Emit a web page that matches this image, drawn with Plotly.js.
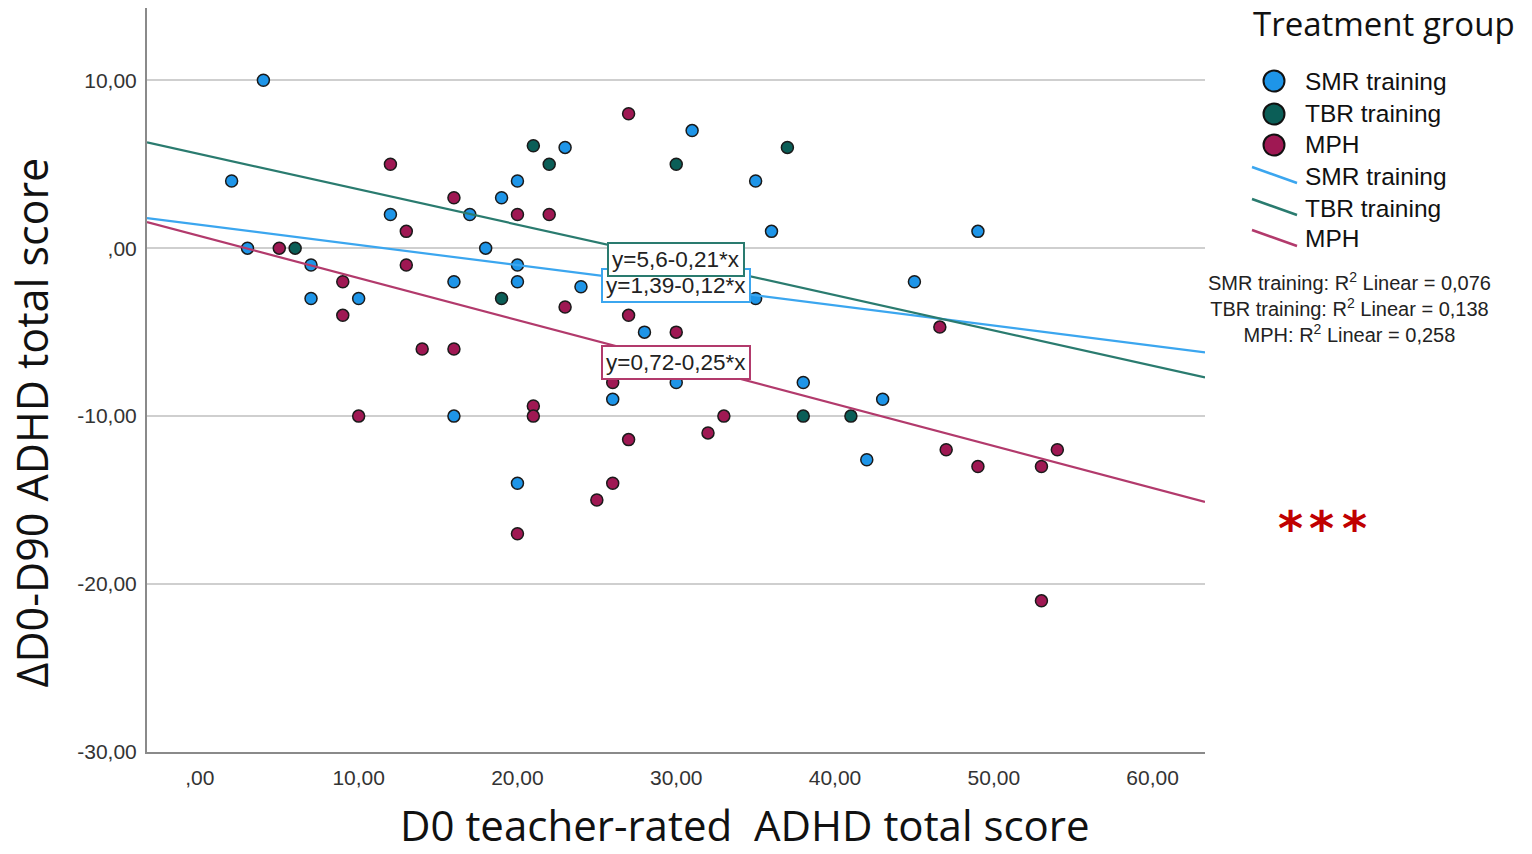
<!DOCTYPE html>
<html>
<head>
<meta charset="utf-8">
<script src="https://cdn.plot.ly/plotly-3.0.1.min.js"></script>
<style>body{margin:0;background:#fff;}</style>
</head>
<body>
<div id="chart" style="width:1532px;height:854px;"></div>
<script>
// groups and colours
var groups = ["SMR training", "TBR training", "MPH"];
var dotColors = ["#1e95e8", "#0b5e57", "#9f1853"];
var lineColors = ["#3ba6ef", "#2a7b6f", "#b23a6c"];

// D0 score (x) and change D0-D90 (y)
var smrX = [4, 2, 3, 7, 7, 10, 12, 16, 16, 17, 18, 19, 20, 20, 20, 20, 23, 24, 26, 28, 30, 31, 35, 35, 36, 38, 42, 43, 45, 49];
var smrY = [10, 4, 0, -1, -3, -3, 2, -2, -10, 2, 0, 3, 4, -1, -2, -14, 6, -2.3, -9, -5, -8, 7, 4, -3, 1, -8, -12.6, -9, -2, 1];

var tbrX = [6, 19, 21, 22, 30, 37, 38, 41];
var tbrY = [0, -3, 6.1, 5, 5, 6, -10, -10];

var mphX = [5, 9, 9, 10, 12, 13, 13, 14, 16, 16, 20, 22, 23, 27, 27, 26, 30, 21, 21, 33, 27, 32, 26, 25, 20, 46.6, 47, 49, 53, 54, 53];
var mphY = [0, -2, -4, -10, 5, 1, -1, -6, -6, 3, 2, 2, -3.5, 8, -4, -8, -5, -9.4, -10, -10, -11.4, -11, -14, -15, -17, -4.7, -12, -13, -13, -12, -21];

// linear fits per group
var intercepts = [1.39, 5.6, 0.72];
var slopes = [-0.12, -0.21, -0.25];
var eqLabels = ["y=1,39-0,12*x", "y=5,6-0,21*x", "y=0,72-0,25*x"];
var r2Values = ["0,076", "0,138", "0,258"];

var xTickVals = [0, 10, 20, 30, 40, 50, 60];
var xTickText = [",00", "10,00", "20,00", "30,00", "40,00", "50,00", "60,00"];
var yTickVals = [-30, -20, -10, 0, 10];
var yTickText = ["-30,00", "-20,00", "-10,00", ",00", "10,00"];

var xRange = [-3.33, 63.3];
var yRange = [-30, 14.3];

// plot area in pixels: left 147, right 1205, top 8, bottom 752
function px(p) { return (p - 147) / 1058; }
function py(p) { return (752 - p) / 744; }

var xs = [smrX, tbrX, mphX];
var ys = [smrY, tbrY, mphY];

var data = [];
for (var i = 0; i < groups.length; i++) {
    data.push({
        x: xs[i], y: ys[i], type: 'scatter', mode: 'markers', name: groups[i],
        marker: {size: 12, color: dotColors[i], line: {color: '#1a1a1a', width: 1.5}},
        cliponaxis: false
    });
}
for (var i = 0; i < groups.length; i++) {
    data.push({
        x: xRange,
        y: [intercepts[i] + slopes[i] * xRange[0], intercepts[i] + slopes[i] * xRange[1]],
        type: 'scatter', mode: 'lines', name: groups[i],
        line: {color: lineColors[i], width: 2.2}
    });
}

var annotations = [];
var shapes = [];

// equation boxes sit on each fit line at x = 30 (teal one drawn last, on top)
[0, 2, 1].forEach(function (i) {
    annotations.push({
        x: 30, y: intercepts[i] + slopes[i] * 30, xref: 'x', yref: 'y',
        text: eqLabels[i], showarrow: false,
        font: {family: 'Liberation Sans, Arial', size: 22.5, color: '#222'},
        bgcolor: '#fff', bordercolor: lineColors[i], borderwidth: 2, borderpad: 3
    });
});

// legend, drawn by hand so the symbols match
annotations.push({
    x: px(1252), y: py(0), xref: 'paper', yref: 'paper', xanchor: 'left', yanchor: 'top',
    text: "Treatment group", showarrow: false, borderpad: 0,
    font: {family: 'Open Sans', size: 33, color: '#111'}
});
var rowY = [81, 114, 145, 176, 208, 239];
for (var i = 0; i < groups.length; i++) {
    shapes.push({
        type: 'circle', xref: 'paper', yref: 'paper',
        xsizemode: 'pixel', ysizemode: 'pixel',
        xanchor: px(1274), yanchor: py(rowY[i]),
        x0: -10.5, x1: 10.5, y0: -10.5, y1: 10.5,
        fillcolor: dotColors[i], line: {color: '#111', width: 2}
    });
    shapes.push({
        type: 'line', xref: 'paper', yref: 'paper',
        x0: px(1252), x1: px(1297), y0: py(rowY[i + 3] - 9), y1: py(rowY[i + 3] + 7),
        line: {color: lineColors[i], width: 2.5}
    });
}
for (var r = 0; r < 6; r++) {
    annotations.push({
        x: px(1303), y: py(rowY[r]), xref: 'paper', yref: 'paper', xanchor: 'left', yanchor: 'middle',
        text: groups[r % 3], showarrow: false,
        font: {family: 'Liberation Sans, Arial', size: 24.5, color: '#111'}
    });
}

var r2Lines = [];
for (var i = 0; i < groups.length; i++) {
    r2Lines.push(groups[i] + ": R<sup>2</sup> Linear = " + r2Values[i]);
}
annotations.push({
    x: px(1349), y: py(307), xref: 'paper', yref: 'paper', xanchor: 'center', yanchor: 'middle',
    text: r2Lines.join("<br>"), showarrow: false, align: 'center',
    font: {family: 'Liberation Sans, Arial', size: 20, color: '#222'}
});

// significance stars
[1290, 1321, 1354].forEach(function (sx) {
    annotations.push({
        x: px(sx), y: py(528), xref: 'paper', yref: 'paper', xanchor: 'center', yanchor: 'middle',
        text: "*", showarrow: false,
        font: {family: 'DejaVu Sans', size: 48, color: '#c00000', weight: 'bold'}
    });
});

// axis titles
annotations.push({
    x: px(745), y: py(854), xref: 'paper', yref: 'paper', xanchor: 'center', yanchor: 'bottom',
    text: "D0 teacher-rated\u00a0 ADHD total score", showarrow: false, borderpad: 0,
    font: {family: 'Open Sans', size: 42, color: '#111'}
});
annotations.push({
    x: px(0), y: py(423), xref: 'paper', yref: 'paper', xanchor: 'left', yanchor: 'middle',
    text: "ΔD0-D90 ADHD total score", showarrow: false, textangle: -90, borderpad: 0,
    font: {family: 'Open Sans', size: 43, color: '#111'}
});

var layout = {
    width: 1532, height: 854,
    margin: {l: 147, r: 327, t: 8, b: 102},
    paper_bgcolor: '#fff', plot_bgcolor: '#fff',
    showlegend: false,
    xaxis: {
        range: xRange, tickvals: xTickVals, ticktext: xTickText,
        showgrid: false, zeroline: false, showline: true, linecolor: '#8a8a8a', linewidth: 2,
        ticks: '', ticklabelstandoff: 6,
        tickfont: {family: 'Liberation Sans, Arial', size: 21, color: '#333'}
    },
    yaxis: {
        range: yRange, tickvals: yTickVals, ticktext: yTickText,
        showgrid: true, gridcolor: '#cfcfcf', gridwidth: 2, zeroline: false,
        showline: true, linecolor: '#8a8a8a', linewidth: 2,
        ticks: '', ticklabelstandoff: 4,
        tickfont: {family: 'Liberation Sans, Arial', size: 21, color: '#333'}
    },
    annotations: annotations,
    shapes: shapes
};

Plotly.newPlot('chart', data, layout, {displayModeBar: false, staticPlot: true});
</script>
</body>
</html>
